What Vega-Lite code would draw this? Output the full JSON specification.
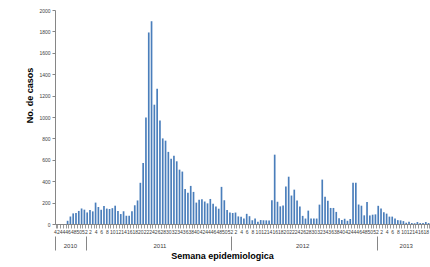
{
  "$schema": "https://vega.github.io/schema/vega-lite/v6.json",
  "width": 375,
  "height": 214,
  "autosize": {"type": "none"},
  "padding": {"left": 55, "top": 10, "right": 0, "bottom": 43},
  "background": "white",
  "config": {"view": {"stroke": null}, "font": "Liberation Sans"},
  "data": {"values": [
    {"sem": "2010-42", "casos": 0}, {"sem": "2010-43", "casos": 0}, {"sem": "2010-44", "casos": 0}, {"sem": "2010-45", "casos": 0},
    {"sem": "2010-46", "casos": 30}, {"sem": "2010-47", "casos": 70}, {"sem": "2010-48", "casos": 99}, {"sem": "2010-49", "casos": 102},
    {"sem": "2010-50", "casos": 122}, {"sem": "2010-51", "casos": 145}, {"sem": "2010-52", "casos": 134},
    {"sem": "2011-1", "casos": 108}, {"sem": "2011-2", "casos": 132}, {"sem": "2011-3", "casos": 118}, {"sem": "2011-4", "casos": 200},
    {"sem": "2011-5", "casos": 159}, {"sem": "2011-6", "casos": 133}, {"sem": "2011-7", "casos": 168}, {"sem": "2011-8", "casos": 144},
    {"sem": "2011-9", "casos": 140}, {"sem": "2011-10", "casos": 148}, {"sem": "2011-11", "casos": 171}, {"sem": "2011-12", "casos": 122},
    {"sem": "2011-13", "casos": 93}, {"sem": "2011-14", "casos": 119}, {"sem": "2011-15", "casos": 77}, {"sem": "2011-16", "casos": 78},
    {"sem": "2011-17", "casos": 120}, {"sem": "2011-18", "casos": 175}, {"sem": "2011-19", "casos": 220}, {"sem": "2011-20", "casos": 385},
    {"sem": "2011-21", "casos": 570}, {"sem": "2011-22", "casos": 995}, {"sem": "2011-23", "casos": 1790}, {"sem": "2011-24", "casos": 1895},
    {"sem": "2011-25", "casos": 1115}, {"sem": "2011-26", "casos": 1263}, {"sem": "2011-27", "casos": 968}, {"sem": "2011-28", "casos": 800},
    {"sem": "2011-29", "casos": 779}, {"sem": "2011-30", "casos": 674}, {"sem": "2011-31", "casos": 609}, {"sem": "2011-32", "casos": 637},
    {"sem": "2011-33", "casos": 586}, {"sem": "2011-34", "casos": 508}, {"sem": "2011-35", "casos": 490}, {"sem": "2011-36", "casos": 328},
    {"sem": "2011-37", "casos": 292}, {"sem": "2011-38", "casos": 356}, {"sem": "2011-39", "casos": 300}, {"sem": "2011-40", "casos": 200},
    {"sem": "2011-41", "casos": 226}, {"sem": "2011-42", "casos": 232}, {"sem": "2011-43", "casos": 210}, {"sem": "2011-44", "casos": 193},
    {"sem": "2011-45", "casos": 234}, {"sem": "2011-46", "casos": 190}, {"sem": "2011-47", "casos": 164}, {"sem": "2011-48", "casos": 143},
    {"sem": "2011-49", "casos": 347}, {"sem": "2011-50", "casos": 222}, {"sem": "2011-51", "casos": 132}, {"sem": "2011-52", "casos": 107},
    {"sem": "2012-1", "casos": 103}, {"sem": "2012-2", "casos": 107}, {"sem": "2012-3", "casos": 71}, {"sem": "2012-4", "casos": 68},
    {"sem": "2012-5", "casos": 52}, {"sem": "2012-6", "casos": 95}, {"sem": "2012-7", "casos": 73}, {"sem": "2012-8", "casos": 35},
    {"sem": "2012-9", "casos": 52}, {"sem": "2012-10", "casos": 22}, {"sem": "2012-11", "casos": 37}, {"sem": "2012-12", "casos": 35},
    {"sem": "2012-13", "casos": 34}, {"sem": "2012-14", "casos": 32}, {"sem": "2012-15", "casos": 222}, {"sem": "2012-16", "casos": 648},
    {"sem": "2012-17", "casos": 208}, {"sem": "2012-18", "casos": 165}, {"sem": "2012-19", "casos": 172}, {"sem": "2012-20", "casos": 350},
    {"sem": "2012-21", "casos": 442}, {"sem": "2012-22", "casos": 266}, {"sem": "2012-23", "casos": 321}, {"sem": "2012-24", "casos": 219},
    {"sem": "2012-25", "casos": 163}, {"sem": "2012-26", "casos": 76}, {"sem": "2012-27", "casos": 51}, {"sem": "2012-28", "casos": 125},
    {"sem": "2012-29", "casos": 51}, {"sem": "2012-30", "casos": 51}, {"sem": "2012-31", "casos": 51}, {"sem": "2012-32", "casos": 181},
    {"sem": "2012-33", "casos": 415}, {"sem": "2012-34", "casos": 254}, {"sem": "2012-35", "casos": 218}, {"sem": "2012-36", "casos": 150},
    {"sem": "2012-37", "casos": 150}, {"sem": "2012-38", "casos": 113}, {"sem": "2012-39", "casos": 54}, {"sem": "2012-40", "casos": 38},
    {"sem": "2012-41", "casos": 49}, {"sem": "2012-42", "casos": 30}, {"sem": "2012-43", "casos": 47}, {"sem": "2012-44", "casos": 386},
    {"sem": "2012-45", "casos": 386}, {"sem": "2012-46", "casos": 182}, {"sem": "2012-47", "casos": 171}, {"sem": "2012-48", "casos": 81},
    {"sem": "2012-49", "casos": 205}, {"sem": "2012-50", "casos": 80}, {"sem": "2012-51", "casos": 87}, {"sem": "2012-52", "casos": 90},
    {"sem": "2013-1", "casos": 170}, {"sem": "2013-2", "casos": 145}, {"sem": "2013-3", "casos": 110}, {"sem": "2013-4", "casos": 97},
    {"sem": "2013-5", "casos": 69}, {"sem": "2013-6", "casos": 69}, {"sem": "2013-7", "casos": 52}, {"sem": "2013-8", "casos": 36},
    {"sem": "2013-9", "casos": 34}, {"sem": "2013-10", "casos": 27}, {"sem": "2013-11", "casos": 12}, {"sem": "2013-12", "casos": 20},
    {"sem": "2013-13", "casos": 9}, {"sem": "2013-14", "casos": 7}, {"sem": "2013-15", "casos": 18}, {"sem": "2013-16", "casos": 9},
    {"sem": "2013-17", "casos": 9}, {"sem": "2013-18", "casos": 18}, {"sem": "2013-19", "casos": 9}
  ]},
  "resolve": {"axis": {"x": "independent"}},
  "layer": [
    {
      "mark": {"type": "bar", "color": "#4a7ebb"},
      "encoding": {
        "x": {
          "field": "sem", "type": "ordinal", "sort": null,
          "scale": {"paddingInner": 0.4, "paddingOuter": 0.2},
          "axis": {
            "orient": "bottom", "title": null, "tickBand": "extent", "tickSize": 4,
            "tickColor": "#9a9a9a", "domainColor": "#868686", "labelAngle": 0,
            "labelFontSize": 5, "labelColor": "#404040", "labelPadding": 1,
            "labelOverlap": false,
            "labelExpr": "toNumber(substring(datum.value, 5)) % 2 == 0 ? substring(datum.value, 5) : ''"
          }
        },
        "y": {
          "field": "casos", "type": "quantitative",
          "scale": {"domain": [0, 2000]},
          "axis": {
            "values": [0, 200, 400, 600, 800, 1000, 1200, 1400, 1600, 1800, 2000],
            "format": "d",
            "grid": false, "tickSize": 3, "tickColor": "#868686", "domainColor": "#868686",
            "labelFontSize": 5, "labelColor": "#404040", "labelPadding": 2,
            "title": "No. de casos", "titleFontSize": 9, "titleFontWeight": "bold",
            "titleColor": "black", "titlePadding": 4, "titleY": 85
          }
        }
      }
    },
    {
      "mark": {"type": "rule", "opacity": 0},
      "encoding": {
        "x": {
          "field": "sem", "type": "ordinal", "sort": null,
          "axis": {
            "orient": "bottom", "offset": 12, "values": ["2010-42", "2011-1", "2012-1", "2013-1"],
            "bandPosition": 0, "tickSize": 14, "tickColor": "#868686",
            "labels": false, "domain": false, "title": null
          }
        }
      }
    },
    {
      "mark": {"type": "rule", "opacity": 0},
      "encoding": {
        "x": {
          "field": "sem", "type": "ordinal", "sort": null,
          "axis": {
            "orient": "bottom", "offset": 16, "values": ["2010-47", "2011-27", "2012-26", "2013-11"],
            "ticks": false, "domain": false, "labelAngle": 0,
            "labelExpr": "substring(datum.value, 0, 4)", "labelFontSize": 6,
            "labelColor": "#404040", "labelPadding": 2,
            "title": "Semana epidemiologica", "titleFontSize": 9, "titleFontWeight": "bold",
            "titleColor": "black", "titlePadding": 3, "titleX": 167
          }
        }
      }
    }
  ]
}
